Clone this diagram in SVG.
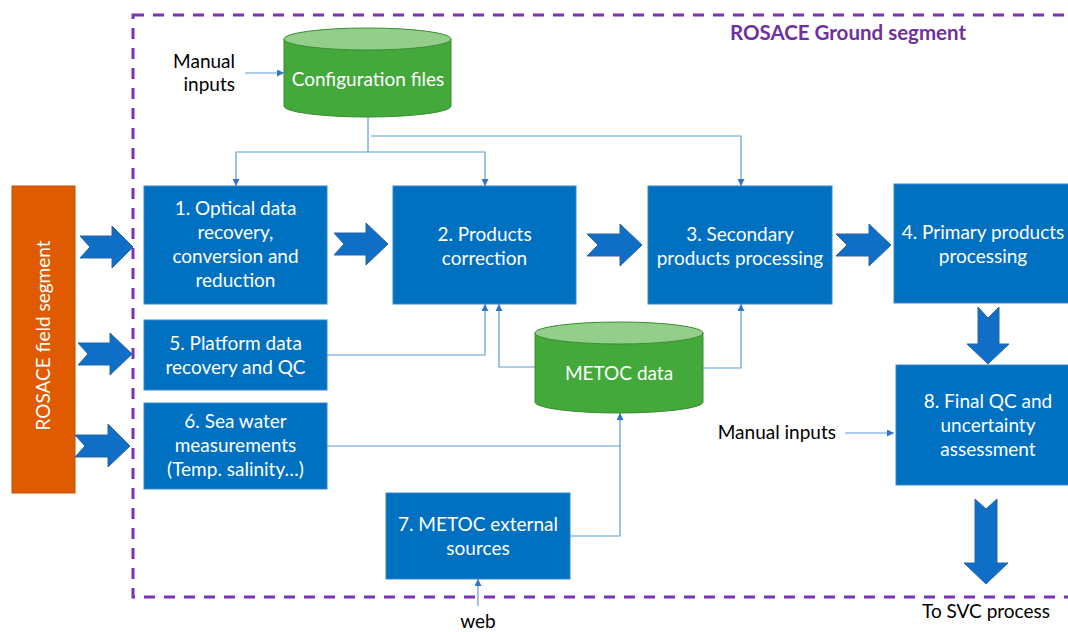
<svg xmlns="http://www.w3.org/2000/svg" width="1068" height="632" viewBox="0 0 1068 632">
<style>
.box{fill:#0070C0;stroke:#3A86CC;stroke-width:1}
.wt{font-family:Lato,"Liberation Sans",sans-serif;font-size:19px;fill:#ffffff;text-anchor:middle}
.bt{font-family:Lato,"Liberation Sans",sans-serif;font-size:19px;fill:#000000}
.chev{fill:#0F6FC6;stroke:#2B62A6;stroke-width:1}
.cyl{fill:#43A93A;stroke:#3A8E33;stroke-width:1}
.cyltop{fill:#93CE8B;stroke:#3A8E33;stroke-width:1}
.con{fill:none;stroke:#5B9BD5;stroke-width:1.2}
</style>
<defs>
<marker id="ah" markerUnits="userSpaceOnUse" markerWidth="7" markerHeight="7" refX="7" refY="3.5" orient="auto">
<path d="M0,0 L7,3.5 L0,7 Z" fill="#2E75C6"/>
</marker>
</defs>
<rect width="1068" height="632" fill="#ffffff"/>

<g id="ground-segment">
<rect x="133" y="15" width="1000" height="582" fill="none" stroke="#7B33B5" stroke-width="3" stroke-dasharray="11 9"/>
<text x="848" y="40" font-family="Lato,'Liberation Sans',sans-serif" font-size="20.5" font-weight="bold" fill="#7030A0" text-anchor="middle">ROSACE Ground segment</text>
</g>

<g id="field-segment">
<rect x="12" y="186" width="63" height="307" fill="#DF5A00" stroke="#C55000" stroke-width="1"/>
<text class="wt" transform="translate(50,335.5) rotate(-90)">ROSACE field segment</text>
</g>

<g id="connectors">
<path class="con" d="M245,73 H284" marker-end="url(#ah)"/>
<path class="con" d="M368,117 V152 H236 V186" marker-end="url(#ah)"/>
<path class="con" d="M368,152 H485 V186" marker-end="url(#ah)"/>
<path class="con" d="M371,136 H741 V186" marker-end="url(#ah)"/>
<path class="con" d="M327,355 H485 V304" marker-end="url(#ah)"/>
<path class="con" d="M536,367 H499 V304" marker-end="url(#ah)"/>
<path class="con" d="M703,368 H741 V304" marker-end="url(#ah)"/>
<path class="con" d="M327,446 H620"/>
<path class="con" d="M570,536 H620 V413" marker-end="url(#ah)"/>
<path class="con" d="M845,433 H894" marker-end="url(#ah)"/>
<path class="con" d="M478,606 V579" marker-end="url(#ah)"/>
<path class="chev" d="M80,236 H112 V226 L133,247 L112,268 V258 H80 L90,247 Z"/>
<path class="chev" d="M78,343 H110 V333 L132,354 L110,375 V365 H78 L88,354 Z"/>
<path class="chev" d="M75,435 H108 V424 L130,446 L108,467 V457 H75 L85,446 Z"/>
<path class="chev" d="M334,233 H366 V223 L388,244 L366,265 V255 H334 L344,244 Z"/>
<path class="chev" d="M587,234 H620 V224 L642,245 L620,266 V256 H587 L598,245 Z"/>
<path class="chev" d="M836,234 H869 V224 L891,245 L869,266 V256 H836 L847,245 Z"/>
<path class="chev" d="M978,307 L988,318 L999,307 V344 H1009 L988,364 L967,344 H978 Z"/>
<path class="chev" d="M975,499 L986,509 L997,499 V563 H1008 L986,584 L964,563 H975 Z"/>
</g>

<g id="manual-inputs-1">
<text class="bt" x="235" y="68" text-anchor="end">Manual</text>
<text class="bt" x="235" y="91" text-anchor="end">inputs</text>
</g>

<g id="config-files">
<path class="cyl" d="M284,39 V106 A83.5,11 0 0 0 451,106 V39 Z"/>
<ellipse class="cyltop" cx="367.5" cy="39" rx="83.5" ry="11"/>
<text class="wt" x="368" y="86">Configuration files</text>
</g>

<g id="box1">
<rect class="box" x="144" y="186" width="183" height="118"/>
<text class="wt" x="235.5" y="215">1. Optical data</text>
<text class="wt" x="235.5" y="239">recovery,</text>
<text class="wt" x="235.5" y="263">conversion and</text>
<text class="wt" x="235.5" y="287">reduction</text>
</g>

<g id="box2">
<rect class="box" x="393" y="186" width="183" height="118"/>
<text class="wt" x="484.5" y="241">2. Products</text>
<text class="wt" x="484.5" y="265">correction</text>
</g>

<g id="box3">
<rect class="box" x="648" y="186" width="184" height="118"/>
<text class="wt" x="740" y="241">3. Secondary</text>
<text class="wt" x="740" y="265">products processing</text>
</g>

<g id="box4">
<rect class="box" x="894" y="184" width="184" height="119"/>
<text class="wt" x="983" y="239">4. Primary products</text>
<text class="wt" x="983" y="263">processing</text>
</g>

<g id="box5">
<rect class="box" x="144" y="320" width="183" height="70"/>
<text class="wt" x="235.5" y="350">5. Platform data</text>
<text class="wt" x="235.5" y="374">recovery and QC</text>
</g>

<g id="box6">
<rect class="box" x="144" y="403" width="183" height="86"/>
<text class="wt" x="235.5" y="428">6. Sea water</text>
<text class="wt" x="235.5" y="452">measurements</text>
<text class="wt" x="235.5" y="476">(Temp. salinity…)</text>
</g>

<g id="metoc-data">
<path class="cyl" d="M535,333 V402 A84,11 0 0 0 703,402 V333 Z"/>
<ellipse class="cyltop" cx="619" cy="333" rx="84" ry="11"/>
<text class="wt" x="619" y="380">METOC data</text>
</g>

<g id="box7">
<rect class="box" x="386" y="493" width="184" height="86"/>
<text class="wt" x="478" y="531">7. METOC external</text>
<text class="wt" x="478" y="555">sources</text>
</g>

<g id="web">
<text class="bt" x="478" y="628" text-anchor="middle">web</text>
</g>

<g id="manual-inputs-2">
<text class="bt" x="836" y="439" text-anchor="end">Manual inputs</text>
</g>

<g id="box8">
<rect class="box" x="896" y="365" width="184" height="120"/>
<text class="wt" x="988" y="408">8. Final QC and</text>
<text class="wt" x="988" y="432">uncertainty</text>
<text class="wt" x="988" y="456">assessment</text>
</g>

<g id="to-svc">
<text class="bt" x="986" y="618" text-anchor="middle">To SVC process</text>
</g>
</svg>
